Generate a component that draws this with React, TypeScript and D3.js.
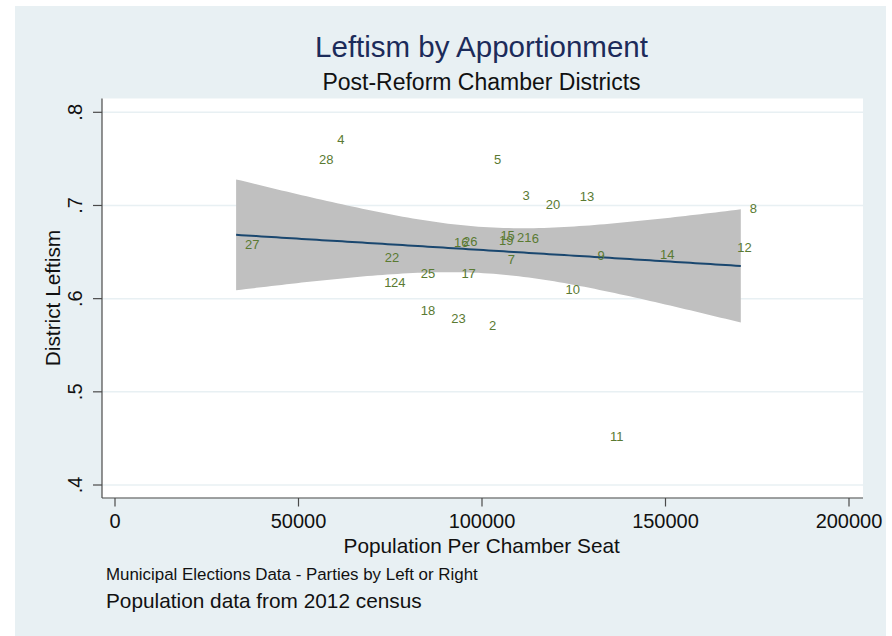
import React from "react";
import * as d3 from "d3";

const districts = ["1","2","3","4","5","6","7","8","9","10","11","12","13","14","15","16","17","18","19","20","21","22","23","24","25","26","27","28"];
const populationPerSeat = [70900,99450,108560,58110,100820,111100,104550,170520,129010,120290,132400,167110,124210,146030,102560,89940,91930,80860,102210,114940,107110,71040,89200,72730,80860,92390,33000,53120];
const leftism = [0.618,0.571,0.711,0.771,0.750,0.665,0.642,0.697,0.646,0.610,0.452,0.655,0.710,0.648,0.668,0.660,0.627,0.588,0.663,0.701,0.666,0.644,0.579,0.618,0.627,0.662,0.658,0.749];

const xTicks = [0, 50000, 100000, 150000, 200000];
const yTicks = [0.4, 0.5, 0.6, 0.7, 0.8];
const yTickLabels = [".4", ".5", ".6", ".7", ".8"];

const TITLE = "Leftism by Apportionment";
const SUBTITLE = "Post-Reform Chamber Districts";
const X_TITLE = "Population Per Chamber Seat";
const Y_TITLE = "District Leftism";
const NOTE = "Municipal Elections Data - Parties by Left or Right";
const CAPTION = "Population data from 2012 census";

const FONT = "'Liberation Sans', Arial, Helvetica, sans-serif";

export default function App() {
  const W = 892, H = 636;
  const x = d3.scaleLinear().domain([0, 200000]).range([115, 849]);
  const y = d3.scaleLinear().domain([0.4, 0.8]).range([485, 112.3]);

  // linear fit with 95% CI (as Stata lfitci)
  const n = populationPerSeat.length;
  const mx = d3.mean(populationPerSeat) as number;
  const my = d3.mean(leftism) as number;
  let sxx = 0, sxy = 0;
  for (let i = 0; i < n; i++) {
    sxx += (populationPerSeat[i] - mx) ** 2;
    sxy += (populationPerSeat[i] - mx) * (leftism[i] - my);
  }
  const b = sxy / sxx;
  const a = my - b * mx;
  let sse = 0;
  for (let i = 0; i < n; i++) sse += (leftism[i] - (a + b * populationPerSeat[i])) ** 2;
  const s = Math.sqrt(sse / (n - 2));
  const t = 2.0555;
  const [minX, maxX] = d3.extent(populationPerSeat) as [number, number];
  const grid = d3.range(0, 101).map((k) => minX + ((maxX - minX) * k) / 100);
  const band = grid.map((xv) => {
    const fit = a + b * xv;
    const se = s * Math.sqrt(1 / n + (xv - mx) ** 2 / sxx);
    return { xv, lo: fit - t * se, hi: fit + t * se, fit };
  });
  const area = d3.area<any>().x((d) => x(d.xv)).y0((d) => y(d.lo)).y1((d) => y(d.hi));
  const line = d3.line<any>().x((d) => x(d.xv)).y((d) => y(d.fit));

  const plotL = 102, plotR = 863, plotT = 98.5, plotB = 497.5;
  const axisColor = "#4a4a4a";

  return (
    <div style={{ position: "absolute", left: 0, top: 0 }}>
      <svg width={W} height={H} style={{ display: "block", fontFamily: FONT }}>
        <rect x={0} y={0} width={W} height={H} fill="#ffffff" />
        <rect x={15} y={6} width={871} height={630} fill="#e8f0f3" />
        <rect x={plotL} y={plotT} width={plotR - plotL} height={plotB - plotT} fill="#ffffff" />
        {yTicks.map((v) => (
          <line key={"g" + v} x1={plotL} x2={plotR} y1={y(v)} y2={y(v)} stroke="#e8f0f3" strokeWidth={1.5} />
        ))}
        <path d={area(band) || ""} fill="#c0c0c0" />
        <path d={line(band) || ""} fill="none" stroke="#1a476f" strokeWidth={2} />
        {districts.map((d, i) => (
          <text
            key={"p" + d}
            x={x(populationPerSeat[i]) + 9}
            y={y(leftism[i])}
            dy="0.36em"
            fontSize={13}
            fill="#5a7a32"
          >
            {d}
          </text>
        ))}
        {/* axes */}
        <line x1={plotL} x2={plotL} y1={plotT} y2={plotB + 0.5} stroke={axisColor} strokeWidth={1.2} />
        <line x1={plotL} x2={plotR} y1={plotB + 0.5} y2={plotB + 0.5} stroke={axisColor} strokeWidth={1.2} />
        {yTicks.map((v, i) => (
          <g key={"yt" + v}>
            <line x1={plotL - 9} x2={plotL} y1={y(v)} y2={y(v)} stroke={axisColor} strokeWidth={1.2} />
            <text
              transform={`translate(81.5,${y(v)}) rotate(-90)`}
              textAnchor="middle"
              fontSize={20}
              fill="#111"
            >
              {yTickLabels[i]}
            </text>
          </g>
        ))}
        {xTicks.map((v) => (
          <g key={"xt" + v}>
            <line x1={x(v)} x2={x(v)} y1={plotB + 0.5} y2={plotB + 9} stroke={axisColor} strokeWidth={1.2} />
            <text x={x(v)} y={528.3} textAnchor="middle" fontSize={20} fill="#111">
              {d3.format("d")(v)}
            </text>
          </g>
        ))}
        <text x={481.7} y={553.3} textAnchor="middle" fontSize={20.8} fill="#111">{X_TITLE}</text>
        <text transform="translate(60,298) rotate(-90)" textAnchor="middle" fontSize={20.8} fill="#111">{Y_TITLE}</text>
        <text x={481.5} y={56.7} textAnchor="middle" fontSize={29.5} fill="#1c2b5a">{TITLE}</text>
        <text x={481.5} y={90} textAnchor="middle" fontSize={23} fill="#111">{SUBTITLE}</text>
        <text x={106} y={580} fontSize={16.9} fill="#111">{NOTE}</text>
        <text x={106} y={608} fontSize={20.8} fill="#111">{CAPTION}</text>
      </svg>
    </div>
  );
}
